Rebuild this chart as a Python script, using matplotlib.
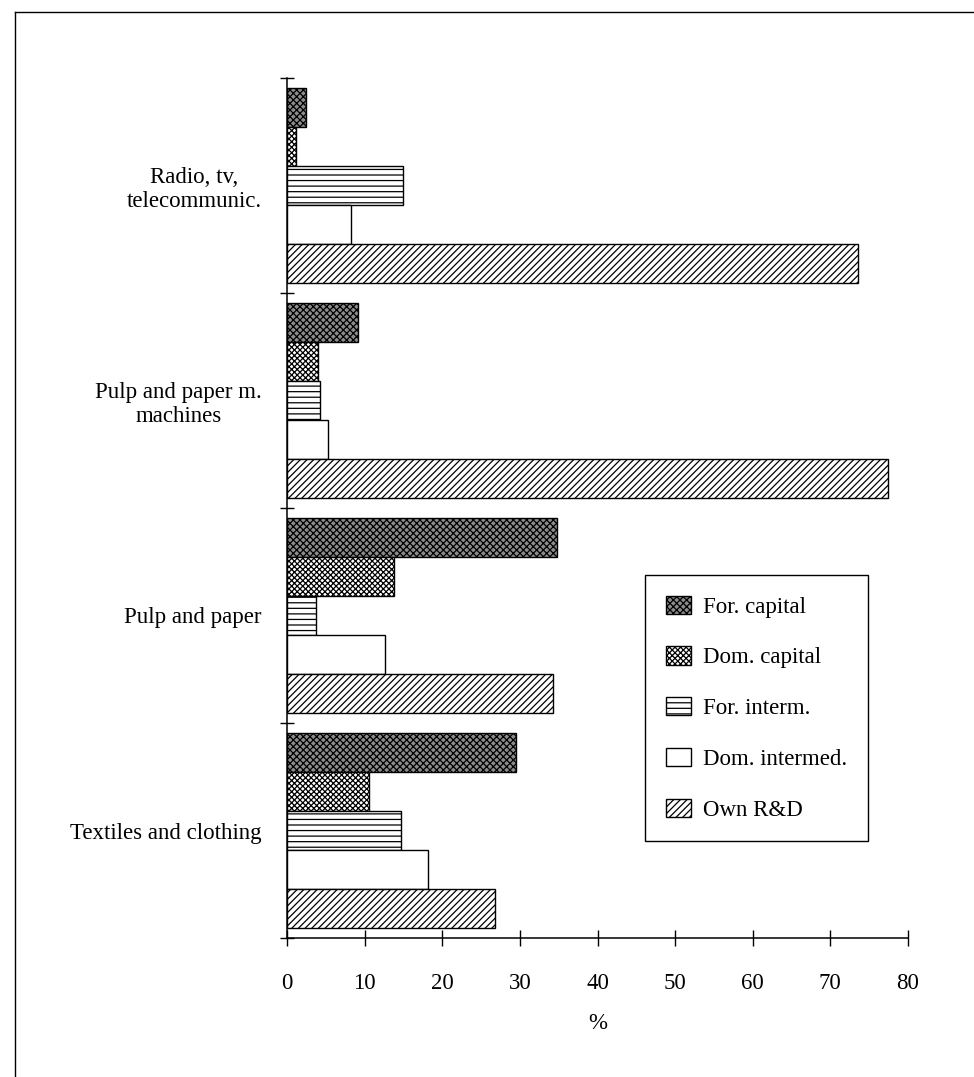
#!/usr/bin/env python3
from __future__ import annotations

import matplotlib

matplotlib.use("Agg")
import matplotlib.pyplot as plt
import numpy as np
from matplotlib.lines import Line2D

# categories listed top to bottom
categories = [
    "Radio, tv,\ntelecommunic.",
    "Pulp and paper m.\nmachines",
    "Pulp and paper",
    "Textiles and clothing",
]
series_names = ["For. capital", "Dom. capital", "For. interm.", "Dom. intermed.", "Own R&D"]

for_capital = [2.5, 9.2, 34.8, 29.5]
dom_capital = [1.2, 4.0, 13.8, 10.6]
for_interm = [14.9, 4.2, 3.8, 14.7]
dom_intermed = [8.3, 5.3, 12.6, 18.2]
own_rd = [73.5, 77.4, 34.3, 26.8]

x_ticks = [0, 10, 20, 30, 40, 50, 60, 70, 80]

W, H = 974, 1077


def bar_styles() -> list[dict]:
    return [
        dict(facecolor="#8c8c8c", hatch="xxxxx"),
        dict(facecolor="white", hatch="xxxxxx"),
        dict(facecolor="white", hatch="---"),
        dict(facecolor="white", hatch=None),
        dict(facecolor="white", hatch="/////"),
    ]


def main() -> None:
    plt.rcParams["font.family"] = ["Liberation Serif", "DejaVu Serif"]
    plt.rcParams["hatch.linewidth"] = 0.9
    fs = 16.5

    fig = plt.figure(figsize=(W / 100, H / 100), dpi=100)
    ax = fig.add_axes([287 / W, 1 - 938 / H, (908 - 287) / W, (938 - 78) / H])

    values = [for_capital, dom_capital, for_interm, dom_intermed, own_rd]
    y = np.arange(len(categories))
    h = 0.182
    for k, (name, vals, style) in enumerate(zip(series_names, values, bar_styles())):
        ax.barh(
            y + (k - 2) * h,
            vals,
            height=h,
            label=name,
            edgecolor="black",
            linewidth=1.0,
            **style,
        )

    ax.set_xlim(0, 80)
    ax.set_ylim(len(categories) - 0.5, -0.5)

    ax.set_xticks(x_ticks)
    ax.set_xticklabels([str(t) for t in x_ticks], fontsize=fs)
    ax.tick_params(axis="x", direction="inout", length=12, width=1, pad=19)
    ax.set_xlabel("%", fontsize=fs, labelpad=14)

    ax.set_yticks(y)
    ax.set_yticklabels(categories, fontsize=fs, linespacing=1.2)
    ax.set_yticks(np.arange(len(categories) + 1) - 0.5, minor=True)
    ax.tick_params(axis="y", which="major", length=0, pad=18)
    ax.tick_params(axis="y", which="minor", direction="inout", length=10, width=1)
    for lbl in ax.get_yticklabels():
        lbl.set_multialignment("center")

    for side in ("top", "right"):
        ax.spines[side].set_visible(False)
    for side in ("left", "bottom"):
        ax.spines[side].set_linewidth(1.1)

    leg = ax.legend(
        loc="upper left",
        bbox_to_anchor=(645 / W, 1 - 575 / H),
        bbox_transform=fig.transFigure,
        borderaxespad=0,
        fontsize=fs,
        frameon=True,
        fancybox=False,
        edgecolor="black",
        framealpha=1,
        borderpad=0.9,
        labelspacing=1.25,
        handlelength=1.1,
        handleheight=0.85,
        handletextpad=0.55,
    )
    leg.get_frame().set_linewidth(1.0)

    # page frame of the scanned figure (left and top edges)
    fig.add_artist(Line2D([15 / W, 15 / W], [0, 1 - 12 / H], transform=fig.transFigure, color="black", lw=1))
    fig.add_artist(Line2D([15 / W, 1], [1 - 12 / H, 1 - 12 / H], transform=fig.transFigure, color="black", lw=1))

    fig.savefig("out.png", dpi=100)


if __name__ == "__main__":
    main()
